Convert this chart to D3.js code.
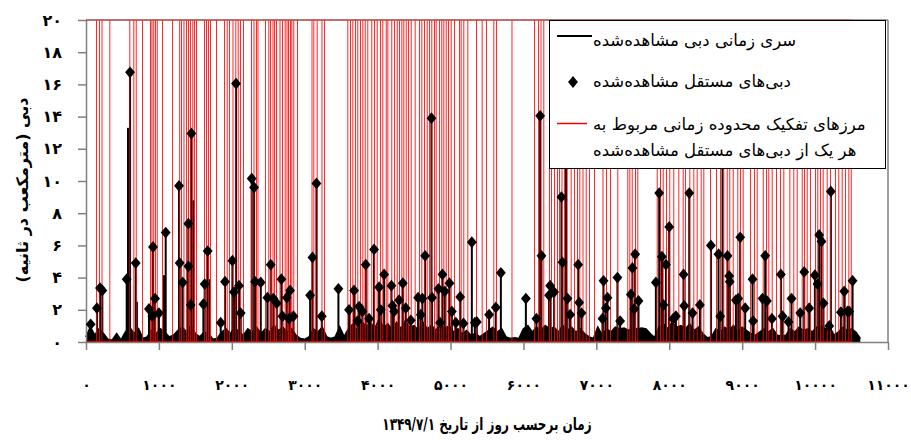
<!DOCTYPE html>
<html><head><meta charset="utf-8">
<script src="https://cdn.jsdelivr.net/npm/d3@7"></script>
<style>
html,body{margin:0;padding:0;background:#fff;}
svg{display:block;}
text{font-family:"DejaVu Sans",sans-serif;}
</style></head>
<body>
<svg id="chart" width="911" height="442"></svg>
<script>
// ---------- DATA ----------
const xTicks = [0,1000,2000,3000,4000,5000,6000,7000,8000,9000,10000,11000];
const yTicks = [0,2,4,6,8,10,12,14,16,18,20];

// observed daily discharge (base flow), sampled every baseStep days from day 0
const baseStep = 60;
const baseFlow = [0.3,0.9,0.4,0.8,0.5,0.15,0.1,0.5,0.1,0.6,0.9,0.5,0.8,0.2,0.3,0.7,0.5,0.8,0.6,0.3,
0.4,0.7,0.9,0.6,1.0,0.5,0.3,0.6,0.5,0.15,0.2,0.6,0.8,0.5,0.9,0.6,0.4,0.8,0.6,0.9,
0.5,0.8,0.6,1.0,0.7,0.9,0.6,0.8,0.4,0.2,0.15,0.3,0.8,0.6,0.9,0.3,0.2,0.3,0.9,0.3,
0.8,1.1,0.7,1.3,0.9,1.2,0.8,1.4,0.9,1.1,0.7,1.2,0.8,1.3,0.9,1.0,0.7,1.2,0.8,1.0,
0.7,1.1,0.8,1.0,0.6,0.8,0.5,0.7,0.4,0.5,0.3,0.5,0.7,0.9,0.6,0.8,0.3,0.2,0.25,0.2,
0.8,1.0,0.6,0.9,0.7,1.0,0.8,0.9,0.6,1.0,0.7,0.9,0.6,0.8,0.5,0.3,0.2,0.9,0.4,0.8,
0.6,0.9,0.8,0.85,0.7,0.9,0.8,0.85,0.8,0.5,0.25,0.9,1.1,0.8,1.2,0.9,1.0,0.8,1.1,0.7,
0.9,0.5,0.25,0.3,0.8,0.6,0.9,0.7,1.0,0.6,0.9,0.7,0.5,0.4,0.6,0.8,0.6,0.8,0.4,0.35,
0.4,0.8,0.6,0.9,0.7,0.8,0.6,0.9,1.0,0.8,0.9,0.4,0.6,0.9,0.7,0.8,0.6,0.2];

// independent observed peak discharges [day, m3/s]
const peaks = [[64,1.1],[150,2.1],[192,3.35],[224,3.2],[558,3.9],[604,16.75],[682,4.9],[864,2.05],[910,1.6],[919,5.9],[947,2.7],[1000,1.8],[1093,6.8],[1276,9.7],[1285,4.9],[1326,3.7],[1404,7.35],[1404,4.7],[1436,2.3],[1445,12.95],[1610,2.35],[1628,3.6],[1669,5.65],
[1848,1.2],[1907,3.75],[2008,5.05],[2030,3.1],[2058,16.05],[2099,3.5],[2122,1.8],[2273,10.15],[2305,9.6],[2319,3.75],[2397,3.7],[2488,2.75],[2534,4.8],[2570,2.7],[2616,2.4],[2680,3.9],[2694,1.6],[2754,2.75],[2785,1.45],[2799,3.2],[2845,1.6],[3074,2.9],[3106,5.25],[3161,9.85],[3234,1.6],[3462,3.3],
[3608,2.0],[3677,3.2],[3723,1.3],[3746,2.2],[3791,1.9],[3837,4.8],[3883,1.45],[3951,5.75],[4020,3.4],[4043,2.0],[4089,4.2],[4189,3.5],[4203,2.25],[4226,1.9],[4294,2.6],[4345,3.65],[4386,2.1],[4455,1.35],[4555,2.75],[4592,1.7],[4614,2.7],[4651,5.35],[4738,13.9],[4745,2.75],[4834,3.3],[4857,1.2],[4889,4.2],[4921,3.15],[4985,3.65],[5018,1.9],[5073,1.2],[5132,2.8],[5177,1.15],[5292,6.2],[5333,1.2],[5360,1.25],
[5529,1.7],[5621,2.15],[5690,4.3],[6033,2.7],[6178,1.45],[6229,14.05],[6247,5.35],[6352,2.9],[6366,3.5],[6421,3.1],[6521,9.0],[6535,4.95],[6604,2.7],[6640,1.7],[6750,4.8],[6764,2.45],[6796,1.8],[7084,1.45],[7098,3.8],
[7130,2.1],[7152,2.75],[7289,4.0],[7326,1.3],[7473,2.95],[7495,4.6],[7518,2.05],[7532,5.45],[7578,2.55],[7816,3.7],[7862,9.25],[7899,5.3],[7921,2.3],[7954,4.8],[7999,7.15],[8054,1.45],[8091,1.6],[8196,4.2],[8205,2.25],[8274,9.25],[8319,1.8],[8420,2.3],[8571,6.0],[8675,5.45],[8699,1.6],[8799,5.35],[8822,4.1],[8830,3.75],[8914,2.6],
[8945,2.7],[8973,6.5],[9041,2.1],[9142,3.9],[9150,1.3],[9279,2.7],[9316,5.35],[9339,2.55],[9408,1.45],[9531,4.2],[9554,1.6],[9636,1.25],[9677,2.7],[9796,1.8],[9851,4.35],[9919,2.1],[9997,4.15],[10033,3.6],[10056,6.65],[10088,6.25],[10115,2.4],[10194,1.0],[10216,9.35],[10354,1.85],[10400,3.15],[10445,1.9],[10468,1.9],[10514,3.8]];

// other daily flow spikes of the series (no marker) [day, m3/s]
const otherSpikes = [[576,13.3],[698,2.5],[1070,4.15],[1472,8.8],[1691,3.9],[6584,12.0],[8730,12.0]];

// time-window separation boundaries (days)
const bounds = [0,137,178,213,320,594,649,682,768,878,898,922,946,970,1042,1180,1278,1303,1337,1372,1399,1426,1458,1481,1509,1618,1646,1673,1701,1783,1893,1930,1961,2009,2048,2081,2112,2153,2263,2297,2332,2352,2455,2500,2524,2558,2579,2606,2654,2688,2725,2750,2771,2798,2816,2843,2894,3093,3118,3164,3230,3264,
3584,3621,3653,3690,3721,3758,3790,3823,3858,3913,3950,3987,4033,4064,4111,4133,4187,4225,4262,4293,4325,4352,4385,4417,4454,4508,4567,4599,4636,4673,4705,4736,4773,4796,4842,4873,4901,4934,4965,5002,5047,5116,5139,5175,5230,5349,5427,5486,5587,5624,5836,6145,6200,6234,6272,
6350,6378,6419,6460,6488,6522,6556,6593,6648,6693,6735,6766,6810,6854,6899,6968,7084,7132,7187,7287,7424,7452,7485,7530,7561,7828,7873,7910,7955,8000,8055,8124,8184,8216,8275,8330,8376,8431,8467,8559,8641,8696,8741,8788,8823,8870,8933,8970,9007,9107,9162,9199,9282,9327,9358,9405,9464,9519,9564,9647,9701,9748,9817,9848,9885,9930,9999,10030,10067,10104,10159,10205,10273,10318,10365,10410,10456,10489];

const xTitle = "زمان برحسب روز از تاریخ ۱۳۴۹/۷/۱";
const yTitle = "دبی (مترمکعب در ثانیه)";
const legendLabels = ["سری زمانی دبی مشاهده‌شده","دبی‌های مستقل مشاهده‌شده","مرزهای تفکیک محدوده زمانی مربوط به","هر یک از دبی‌های مستقل مشاهده‌شده"];

// ---------- DRAW ----------
const faDigits = "۰۱۲۳۴۵۶۷۸۹";
const fa = n => String(n).replace(/\d/g, d => faDigits[+d]);

const W = 911, H = 442;
const m = {left:86, right:23, top:20, bottom:100};
const svg = d3.select("#chart");
const x = d3.scaleLinear().domain([0,11000]).range([m.left, W - m.right]);
const y = d3.scaleLinear().domain([0,20]).range([H - m.bottom, m.top]);

const series = baseFlow.map((v,i) => [i*baseStep, v]);

// base flow area + line
svg.append("path").datum(series)
  .attr("d", d3.area().x(d=>x(d[0])).y0(y(0)).y1(d=>y(d[1])))
  .attr("fill","#000");
svg.append("path").datum(series)
  .attr("d", d3.line().x(d=>x(d[0])).y(d=>y(d[1])))
  .attr("fill","none").attr("stroke","#000").attr("stroke-width",2);

// spikes (stems)
svg.append("g").selectAll("line").data(peaks.concat(otherSpikes)).join("line")
  .attr("x1", d=>x(d[0])).attr("x2", d=>x(d[0]))
  .attr("y1", y(0)).attr("y2", d=>y(d[1]))
  .attr("stroke","#000").attr("stroke-width",2);

// red window boundaries
const red = svg.append("g").attr("stroke","#ff0000").attr("stroke-width",1).attr("opacity",0.85);
red.selectAll("line").data(bounds).join("line")
  .attr("x1", d=>x(d)+0.5).attr("x2", d=>x(d)+0.5)
  .attr("y1", y(20)).attr("y2", y(0));

// axes
const axisColor = "#808080";
const gx = svg.append("g").attr("transform",`translate(0,${y(0)})`)
  .call(d3.axisBottom(x).tickValues(xTicks).tickFormat(fa).tickSize(8).tickSizeOuter(0).tickPadding(30));
const gy = svg.append("g").attr("transform",`translate(${m.left},0)`)
  .call(d3.axisLeft(y).tickValues(yTicks).tickFormat(fa).tickSize(8).tickSizeOuter(0).tickPadding(16));
[gx,gy].forEach(g=>{
  g.select(".domain").attr("stroke",axisColor).attr("stroke-width",1.5);
  g.selectAll(".tick line").attr("stroke",axisColor).attr("stroke-width",1.5);
  g.selectAll(".tick text").attr("fill","#000").attr("font-weight","bold")
   .attr("font-family","DejaVu Sans");
});
gx.selectAll(".tick text").attr("font-size",14);
gy.selectAll(".tick text").attr("font-size",16);
// frame top/right
svg.append("line").attr("x1",m.left).attr("x2",W-m.right).attr("y1",y(20)).attr("y2",y(20))
  .attr("stroke",axisColor).attr("stroke-width",1.5);
svg.append("line").attr("x1",W-m.right).attr("x2",W-m.right).attr("y1",y(20)).attr("y2",y(0))
  .attr("stroke",axisColor).attr("stroke-width",1.5);
svg.append("line").attr("x1",x(bounds[0])).attr("x2",x(bounds[bounds.length-1])+1).attr("y1",y(20)).attr("y2",y(20))
  .attr("stroke","#ff0000").attr("stroke-width",1).attr("opacity",0.6);
svg.append("line").attr("x1",x(bounds[0])).attr("x2",x(bounds[bounds.length-1])+1).attr("y1",y(0)-0.5).attr("y2",y(0)-0.5)
  .attr("stroke","#ff0000").attr("stroke-width",1).attr("opacity",0.8);

// diamonds
const sym = d3.symbol().type(d3.symbolDiamond).size(40);
svg.append("g").selectAll("path").data(peaks).join("path")
  .attr("d", sym)
  .attr("transform", d=>`translate(${x(d[0])},${y(d[1])}) scale(1.45,1)`)
  .attr("fill","#000");

// titles
svg.append("text").attr("transform","translate(487,430) scale(1,1.4)").attr("text-anchor","middle")
  .attr("direction","rtl").attr("font-size",12).attr("font-weight","bold").text(xTitle);
svg.append("text").attr("transform","translate(28,190) rotate(-90)").attr("text-anchor","middle")
  .attr("direction","rtl").attr("font-size",16).attr("font-weight","bold").text(yTitle);

// legend
const lg = svg.append("g");
lg.append("rect").attr("x",549.5).attr("y",20.5).attr("width",336).attr("height",148)
  .attr("fill","#fff").attr("stroke","#000").attr("stroke-width",1);
lg.append("line").attr("x1",557).attr("x2",592).attr("y1",36).attr("y2",36).attr("stroke","#000").attr("stroke-width",2);
lg.append("path").attr("d",sym).attr("transform","translate(573,82) scale(1.45,1)").attr("fill","#000");
lg.append("line").attr("x1",557).attr("x2",587).attr("y1",123.5).attr("y2",123.5).attr("stroke","#ff0000").attr("stroke-width",1.5);
const ly = [46,87,130,156];
legendLabels.forEach((t,i)=>{
  lg.append("text").attr("x",593).attr("y",ly[i]).attr("text-anchor","end").attr("direction","rtl")
    .attr("font-size",16.5).attr("fill","#000").text(t);
});
</script>
</body></html>
